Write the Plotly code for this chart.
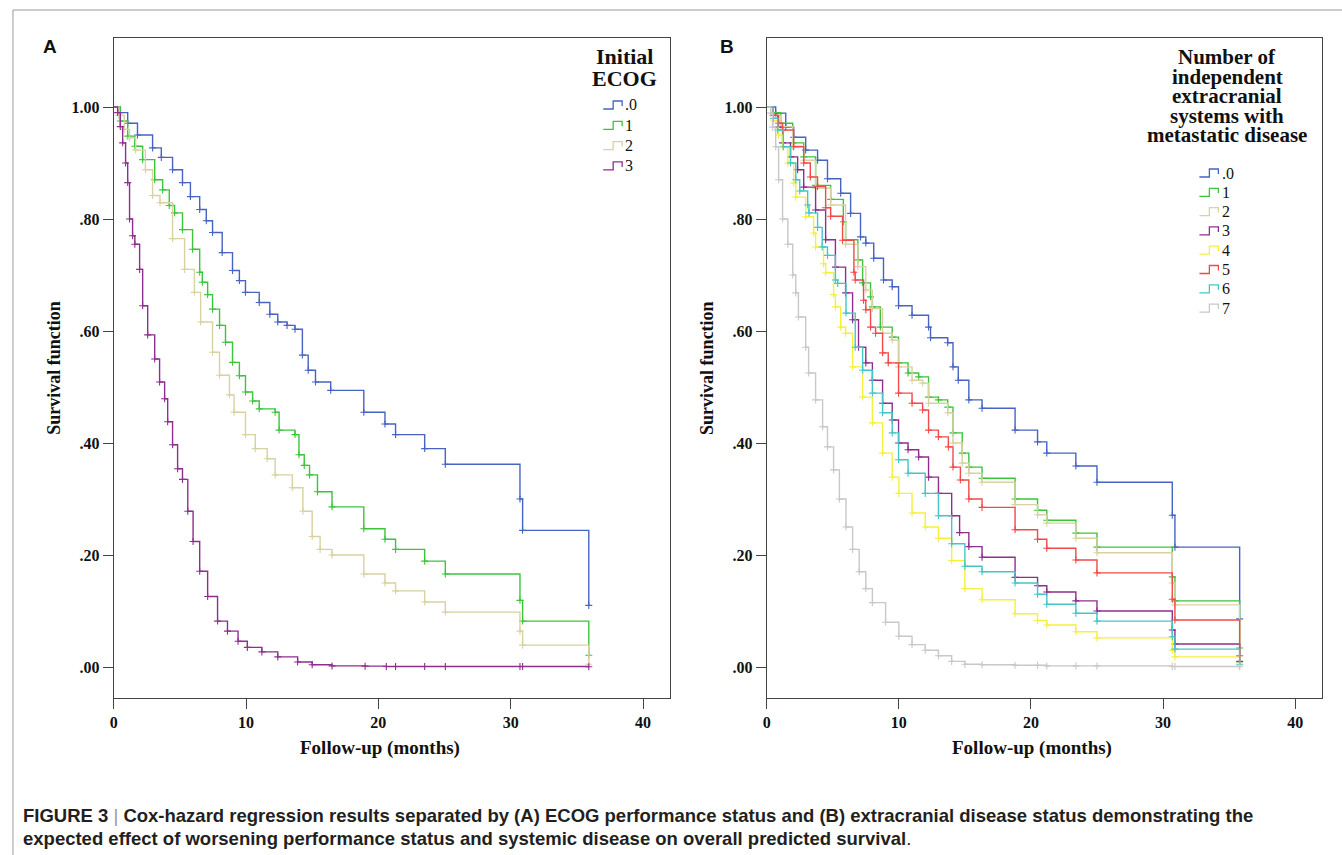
import plotly.graph_objects as go

# ---------------- data ----------------
# Panel A: Initial ECOG
a_labels = [".0", "1", "2", "3"]
a_t0 = [0, 0.5, 1.06, 1.8, 2.94, 3.6, 4.45, 5.2, 5.8, 6.5, 7.0, 7.47, 8.2, 8.98, 9.5, 9.96, 11.0, 11.8, 12.4, 13.1, 13.7, 14.26, 14.7, 15.25, 16.4, 18.9, 20.5, 21.3, 23.5, 25.06, 30.7, 30.9, 35.9]
a_s0 = [1.0, 0.99, 0.971, 0.95, 0.927, 0.91, 0.888, 0.865, 0.84, 0.817, 0.797, 0.776, 0.74, 0.708, 0.69, 0.669, 0.651, 0.63, 0.616, 0.61, 0.603, 0.557, 0.53, 0.509, 0.494, 0.455, 0.434, 0.415, 0.390, 0.362, 0.30, 0.244, 0.11]
a_t1 = [0, 0.5, 1.06, 1.6, 2.19, 3.1, 3.7, 4.2, 4.6, 5.2, 5.96, 6.5, 6.7, 7.1, 7.47, 8.0, 8.45, 8.98, 9.5, 9.96, 10.5, 11.0, 12.2, 12.5, 13.7, 14.0, 14.4, 14.8, 15.4, 16.5, 18.9, 20.5, 21.3, 23.5, 25.06, 30.7, 30.9, 35.9]
a_s1 = [1.0, 0.975, 0.948, 0.93, 0.906, 0.870, 0.852, 0.824, 0.811, 0.781, 0.746, 0.705, 0.687, 0.665, 0.639, 0.61, 0.58, 0.544, 0.52, 0.491, 0.475, 0.461, 0.455, 0.423, 0.415, 0.379, 0.36, 0.343, 0.313, 0.286, 0.247, 0.228, 0.21, 0.189, 0.166, 0.119, 0.082, 0.021]
a_t2 = [0, 0.4, 0.8, 1.2, 1.66, 2.4, 2.94, 3.5, 4.45, 5.36, 6.1, 6.57, 7.47, 8.0, 8.75, 9.1, 9.96, 10.7, 11.6, 12.2, 13.5, 14.3, 15.0, 15.6, 16.5, 18.9, 20.5, 21.3, 23.5, 25.06, 30.7, 30.9, 35.9]
a_s2 = [1.0, 0.985, 0.96, 0.945, 0.923, 0.888, 0.842, 0.829, 0.765, 0.710, 0.669, 0.616, 0.562, 0.521, 0.486, 0.455, 0.415, 0.390, 0.372, 0.343, 0.32, 0.278, 0.233, 0.21, 0.20, 0.166, 0.15, 0.136, 0.116, 0.098, 0.064, 0.039, 0.005]
a_t3 = [0, 0.3, 0.5, 0.68, 0.9, 1.06, 1.2, 1.43, 1.6, 1.96, 2.19, 2.57, 3.1, 3.47, 3.85, 4.08, 4.45, 4.83, 5.2, 5.6, 6.0, 6.5, 7.1, 7.85, 8.6, 9.4, 10.1, 11.2, 12.4, 13.9, 15.0, 16.5, 19.0, 20.6, 21.3, 23.5, 25.06, 30.7, 30.9, 35.9]
a_s3 = [1.0, 0.99, 0.965, 0.936, 0.9, 0.865, 0.80, 0.77, 0.755, 0.71, 0.645, 0.593, 0.55, 0.509, 0.479, 0.438, 0.397, 0.354, 0.335, 0.278, 0.224, 0.171, 0.126, 0.082, 0.064, 0.046, 0.035, 0.027, 0.018, 0.009, 0.004, 0.002, 0.0015, 0.001, 0.001, 0.001, 0.001, 0.001, 0.0008, 0.0005]

# Panel B: number of extracranial systems with metastatic disease
b_labels = [".0", "1", "2", "3", "4", "5", "6", "7"]
b_t0 = [0, 0.68, 1.44, 2.04, 2.95, 3.85, 4.6, 5.6, 6.35, 7.1, 7.5, 8.1, 8.84, 9.5, 9.98, 11.0, 12.25, 12.4, 13.7, 14.1, 14.5, 15.3, 16.3, 18.8, 20.5, 21.2, 23.4, 25.0, 30.7, 30.9, 35.8]
b_s0 = [1.0, 0.989, 0.964, 0.946, 0.923, 0.905, 0.872, 0.846, 0.81, 0.768, 0.757, 0.73, 0.691, 0.679, 0.645, 0.628, 0.607, 0.588, 0.579, 0.536, 0.512, 0.477, 0.462, 0.423, 0.402, 0.382, 0.359, 0.330, 0.271, 0.214, 0.086]
b_t1 = [0, 0.5, 1.06, 1.97, 2.8, 3.7, 4.84, 5.8, 5.97, 6.9, 7.26, 7.86, 8.0, 8.6, 9.5, 9.98, 10.7, 11.5, 12.25, 13.0, 13.7, 14.1, 14.8, 15.3, 16.3, 18.8, 20.5, 21.2, 23.4, 25.0, 30.7, 30.9, 35.8]
b_s1 = [1.0, 0.99, 0.971, 0.936, 0.911, 0.86, 0.835, 0.795, 0.763, 0.727, 0.686, 0.661, 0.643, 0.607, 0.589, 0.543, 0.525, 0.518, 0.482, 0.477, 0.464, 0.418, 0.382, 0.357, 0.337, 0.30, 0.28, 0.262, 0.239, 0.214, 0.161, 0.118, 0.034]
b_t2 = [0, 0.5, 1.06, 1.97, 2.8, 3.7, 4.84, 5.97, 6.9, 7.5, 8.0, 8.77, 9.5, 9.98, 11.0, 11.8, 12.25, 13.7, 14.1, 14.8, 15.3, 16.3, 18.8, 20.5, 21.2, 23.4, 25.0, 30.7, 30.9, 35.8]
b_s2 = [1.0, 0.985, 0.965, 0.93, 0.905, 0.855, 0.825, 0.755, 0.715, 0.673, 0.64, 0.596, 0.584, 0.536, 0.512, 0.507, 0.471, 0.454, 0.40, 0.364, 0.346, 0.33, 0.29, 0.272, 0.257, 0.230, 0.204, 0.150, 0.111, 0.008]
b_t3 = [0, 0.5, 0.83, 1.2, 1.8, 2.34, 2.8, 3.7, 4.46, 5.2, 5.97, 6.5, 6.95, 7.5, 8.0, 8.77, 9.5, 9.98, 10.7, 11.5, 12.25, 13.0, 14.0, 14.6, 15.3, 16.3, 18.8, 20.5, 21.2, 23.4, 25.0, 30.7, 30.9, 35.8]
b_s3 = [1.0, 0.985, 0.964, 0.936, 0.911, 0.888, 0.857, 0.816, 0.763, 0.714, 0.668, 0.620, 0.571, 0.543, 0.512, 0.471, 0.441, 0.400, 0.388, 0.375, 0.339, 0.31, 0.27, 0.24, 0.215, 0.196, 0.16, 0.145, 0.134, 0.118, 0.10, 0.066, 0.041, 0.01]
b_t4 = [0, 0.5, 0.9, 1.2, 1.6, 2.04, 2.2, 2.95, 3.55, 3.7, 4.3, 4.46, 5.06, 5.2, 5.6, 5.97, 6.5, 7.26, 8.0, 8.77, 9.5, 10.0, 11.0, 12.0, 13.0, 14.0, 15.0, 16.3, 18.8, 20.5, 21.2, 23.4, 25.0, 30.7, 30.9, 35.8]
b_s4 = [1.0, 0.975, 0.95, 0.929, 0.9, 0.864, 0.839, 0.804, 0.775, 0.75, 0.72, 0.704, 0.665, 0.643, 0.607, 0.596, 0.536, 0.482, 0.436, 0.382, 0.339, 0.31, 0.275, 0.25, 0.23, 0.19, 0.14, 0.12, 0.095, 0.083, 0.075, 0.063, 0.052, 0.030, 0.018, 0.002]
b_t5 = [0, 0.5, 0.9, 1.2, 2.04, 2.8, 3.3, 3.85, 4.46, 4.84, 5.74, 6.6, 6.7, 7.33, 7.5, 7.86, 8.24, 8.77, 9.2, 9.98, 11.0, 11.8, 12.25, 13.0, 13.75, 14.1, 14.66, 15.3, 16.3, 18.8, 20.5, 21.2, 23.4, 25.0, 30.7, 30.9, 35.8]
b_s5 = [1.0, 0.985, 0.971, 0.959, 0.929, 0.9, 0.875, 0.858, 0.82, 0.805, 0.762, 0.705, 0.691, 0.655, 0.638, 0.607, 0.596, 0.561, 0.543, 0.489, 0.471, 0.459, 0.423, 0.411, 0.393, 0.357, 0.334, 0.30, 0.285, 0.245, 0.228, 0.212, 0.191, 0.168, 0.121, 0.084, 0.02]
b_t6 = [0, 0.5, 0.83, 1.26, 1.8, 2.2, 2.5, 3.1, 3.2, 3.85, 4.2, 4.6, 5.2, 5.37, 6.0, 6.7, 7.26, 8.0, 8.77, 9.5, 9.98, 10.7, 12.0, 13.0, 14.0, 15.0, 16.3, 18.8, 20.5, 21.2, 23.4, 25.0, 30.7, 30.9, 35.8]
b_s6 = [1.0, 0.98, 0.959, 0.929, 0.9, 0.87, 0.85, 0.825, 0.811, 0.785, 0.75, 0.735, 0.691, 0.685, 0.632, 0.571, 0.530, 0.489, 0.454, 0.418, 0.370, 0.346, 0.31, 0.27, 0.22, 0.18, 0.17, 0.15, 0.13, 0.112, 0.096, 0.082, 0.054, 0.032, 0.005]
b_t7 = [0, 0.3, 0.45, 0.68, 0.9, 1.2, 1.6, 1.97, 2.2, 2.4, 2.95, 3.17, 3.7, 4.23, 4.6, 5.06, 5.5, 6.0, 6.5, 7.0, 7.5, 8.0, 9.0, 10.0, 11.0, 12.0, 13.0, 14.0, 15.0, 16.3, 18.8, 20.5, 21.2, 23.4, 25.0, 30.7, 30.9, 35.8]
b_s7 = [1.0, 0.989, 0.964, 0.929, 0.870, 0.80, 0.755, 0.70, 0.668, 0.625, 0.571, 0.525, 0.477, 0.429, 0.393, 0.352, 0.30, 0.25, 0.21, 0.17, 0.14, 0.115, 0.08, 0.055, 0.04, 0.03, 0.02, 0.01, 0.005, 0.004, 0.003, 0.003, 0.002, 0.002, 0.002, 0.001, 0.001, 0.0005]

x_ticks = [0, 10, 20, 30, 40]
y_ticks = [0, 0.2, 0.4, 0.6, 0.8, 1.0]
y_ticktext = [".00", ".20", ".40", ".60", ".80", "1.00"]

a_colors = ["#4763c4", "#3cc43c", "#d8d2a2", "#8e2f8e"]
b_colors = ["#4763c4", "#3cc43c", "#d8d2a2", "#8e2f8e", "#f5f03c", "#f24a4a", "#45c6c6", "#c8c8c8"]

W, H = 1342, 855
SERIF = "Liberation Serif, Times New Roman, serif"
SANS = "Liberation Sans, Arial, sans-serif"

def px(x):
    return x / W

def py(y):
    return 1 - y / H

fig = go.Figure()

a_series = [(a_t0, a_s0), (a_t1, a_s1), (a_t2, a_s2), (a_t3, a_s3)]
b_series = [(b_t0, b_s0), (b_t1, b_s1), (b_t2, b_s2), (b_t3, b_s3),
            (b_t4, b_s4), (b_t5, b_s5), (b_t6, b_s6), (b_t7, b_s7)]

def add_curves(series, colors, labels, xa, ya):
    for (t, s), c, lab in zip(series, colors, labels):
        fig.add_trace(go.Scatter(x=t, y=s, mode="lines", line=dict(color=c, width=1.4, shape="hv"),
                                 xaxis=xa, yaxis=ya, showlegend=False, name=lab))
        fig.add_trace(go.Scatter(x=t[1:], y=s[1:], mode="markers",
                                 marker=dict(symbol="cross-thin", size=5, line=dict(color=c, width=1.1)),
                                 xaxis=xa, yaxis=ya, showlegend=False, hoverinfo="skip"))

add_curves(a_series, a_colors, a_labels, "x", "y")
add_curves(b_series, b_colors, b_labels, "x2", "y2")

x_range = [0, (668 - 111) / 13.25]
y_range = [(667 - 698) / 560, (667 - 38) / 560]

axis_common = dict(showline=True, linecolor="#444444", linewidth=1, mirror=True,
                   ticks="outside", ticklen=10, tickcolor="#444444", tickwidth=1,
                   showgrid=False, zeroline=False,
                   tickfont=dict(family=SERIF, size=16, color="#111111", weight="bold"))

ydom = [py(698), py(38)]
fig.update_layout(
    width=W, height=H,
    margin=dict(l=0, r=0, t=0, b=0),
    paper_bgcolor="white", plot_bgcolor="white",
    xaxis=dict(domain=[px(110), px(668)], range=x_range, tickvals=x_ticks,
               anchor="y", **axis_common),
    yaxis=dict(domain=ydom, range=y_range, tickvals=y_ticks, ticktext=y_ticktext,
               anchor="x", **axis_common),
    xaxis2=dict(domain=[px(765), px(1322)], range=x_range, tickvals=x_ticks,
                anchor="y2", **axis_common),
    yaxis2=dict(domain=ydom, range=y_range, tickvals=y_ticks, ticktext=y_ticktext,
                anchor="x2", **axis_common),
)

ann = []
def text(x, y, s, size, family=SERIF, bold=True, angle=0, xanchor="center", color="#111111"):
    ann.append(dict(x=px(x), y=py(y), xref="paper", yref="paper", text=("<b>%s</b>" % s) if bold else s,
                    showarrow=False, xanchor=xanchor, yanchor="middle", textangle=angle,
                    font=dict(family=family, size=size, color=color)))

# Panel letters
text(46, 46, "A", 19, family=SANS)
text(725, 46, "B", 19, family=SANS)
# Axis titles
text(50, 368, "Survival function", 18, angle=-90)
text(705, 368, "Survival function", 18, angle=-90)
text(377, 748, "Follow-up (months)", 19)
text(1031, 748, "Follow-up (months)", 19)

# Legend A
text(622, 56, "Initial", 22)
text(622, 78, "ECOG", 22)
shapes = []
def glyph(x0, yc, color):
    pts = [(x0, yc + 4), (x0 + 10, yc + 4), (x0 + 10, yc - 4), (x0 + 19, yc - 4), (x0 + 19, yc + 1)]
    path = "M " + " L ".join("%.5f,%.5f" % (px(a), py(b)) for a, b in pts)
    shapes.append(dict(type="path", path=path, xref="paper", yref="paper",
                       line=dict(color=color, width=1.3)))

for i, (lab, c) in enumerate(zip(a_labels, a_colors)):
    yc = 105 + 20.3 * i
    glyph(601, yc, c)
    text(621, yc, lab, 16, bold=False, xanchor="left")

# Legend B
b_title = ["Number of", "independent", "extracranial", "systems with", "metastatic disease"]
for i, line in enumerate(b_title):
    text(1227, 57 + 19.6 * i, line, 21)
for i, (lab, c) in enumerate(zip(b_labels, b_colors)):
    yc = 173 + 19.3 * i
    glyph(1199, yc, c)
    text(1220, yc, lab, 16, bold=False, xanchor="left")

# Caption
cap1 = ("<b>FIGURE 3</b> <span style='color:#999999'>|</span> <b>Cox-hazard regression results separated by (A) ECOG "
        "performance status and (B) extracranial disease status demonstrating the</b>")
cap2 = "<b>expected effect of worsening performance status and systemic disease on overall predicted survival</b>."
ann.append(dict(x=px(17), y=py(815), xref="paper", yref="paper", text=cap1, showarrow=False,
                xanchor="left", yanchor="middle", font=dict(family=SANS, size=18.5, color="#231f20")))
ann.append(dict(x=px(17), y=py(838), xref="paper", yref="paper", text=cap2, showarrow=False,
                xanchor="left", yanchor="middle", font=dict(family=SANS, size=18.5, color="#231f20")))

# Page frame lines
shapes.append(dict(type="line", xref="paper", yref="paper", x0=px(9), x1=1, y0=py(10), y1=py(10),
                   line=dict(color="#9a9a9a", width=1)))
shapes.append(dict(type="line", xref="paper", yref="paper", x0=px(9), x1=px(9), y0=py(10), y1=0,
                   line=dict(color="#9a9a9a", width=1)))

fig.update_layout(annotations=ann, shapes=shapes)
fig.write_html("out.html", config={"displayModeBar": False},
               post_script="document.body.style.margin='0px';document.body.style.overflow='hidden';")
